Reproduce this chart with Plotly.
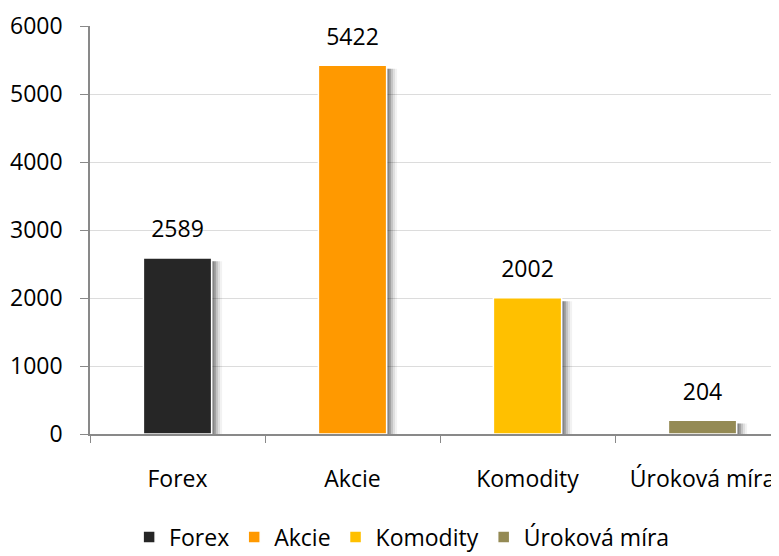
import plotly.graph_objects as go

categories = ["Forex", "Akcie", "Komodity", "Úroková míra"]
values = [2589, 5422, 2002, 204]
colors = ["#262626", "#FF9900", "#FFC000", "#948A54"]
y_ticks = [0, 1000, 2000, 3000, 4000, 5000, 6000]

FONT = "Open Sans, Liberation Sans, sans-serif"
FS = 23
BW = 0.39

fig = go.Figure()

# soft shadows behind bars
for cat, val in zip(categories, values):
    for dx, alpha in [(0.060, 0.05), (0.048, 0.08), (0.036, 0.12), (0.025, 0.16), (0.015, 0.18)]:
        fig.add_trace(go.Bar(
            x=[cat], y=[val - 50], width=BW, offset=-BW / 2 + dx,
            marker=dict(color=f"rgba(0,0,0,{alpha})", line=dict(width=0)),
            showlegend=False, hoverinfo="skip",
        ))

for cat, val, col in zip(categories, values, colors):
    fig.add_trace(go.Bar(
        x=[cat], y=[val], name=cat, width=BW, offset=-BW / 2,
        marker=dict(color=col, line=dict(color="white", width=1.5)),
        hoverinfo="x+y",
    ))

# value labels above bars
fig.add_trace(go.Scatter(
    x=categories, y=values, mode="markers+text",
    text=[str(v) for v in values], textposition="top center",
    marker=dict(size=22, opacity=0), cliponaxis=False,
    textfont=dict(size=FS, color="#000000", family=FONT),
    showlegend=False, hoverinfo="skip",
))

fig.update_layout(
    width=771, height=551,
    margin=dict(l=82, r=0, t=18, b=125),
    paper_bgcolor="white", plot_bgcolor="white",
    barmode="overlay",
    font=dict(family=FONT, size=FS, color="#000000"),
    legend=dict(orientation="h", x=0.453, xanchor="center", y=-0.305, yanchor="bottom",
                font=dict(size=FS, family=FONT), itemwidth=30,
                traceorder="normal"),
    xaxis=dict(
        type="category", categoryorder="array", categoryarray=categories,
        range=[-0.5, 3.437], automargin=False,
        showline=True, linecolor="#898989", linewidth=1.5,
        ticks="outside", tickson="boundaries", ticklen=7, tickcolor="#898989",
        showgrid=False, tickfont=dict(size=FS, family=FONT),
        ticklabelstandoff=24,
    ),
    yaxis=dict(
        range=[0, 6000], tickvals=y_ticks, automargin=False,
        showline=True, linecolor="#898989", linewidth=1.5,
        ticks="outside", ticklen=8, tickcolor="#898989",
        showgrid=True, gridcolor="#dcdcdc", gridwidth=1,
        zeroline=False, tickfont=dict(size=FS, family=FONT),
        ticklabelstandoff=13,
    ),
)

fig.write_html("out.html")
